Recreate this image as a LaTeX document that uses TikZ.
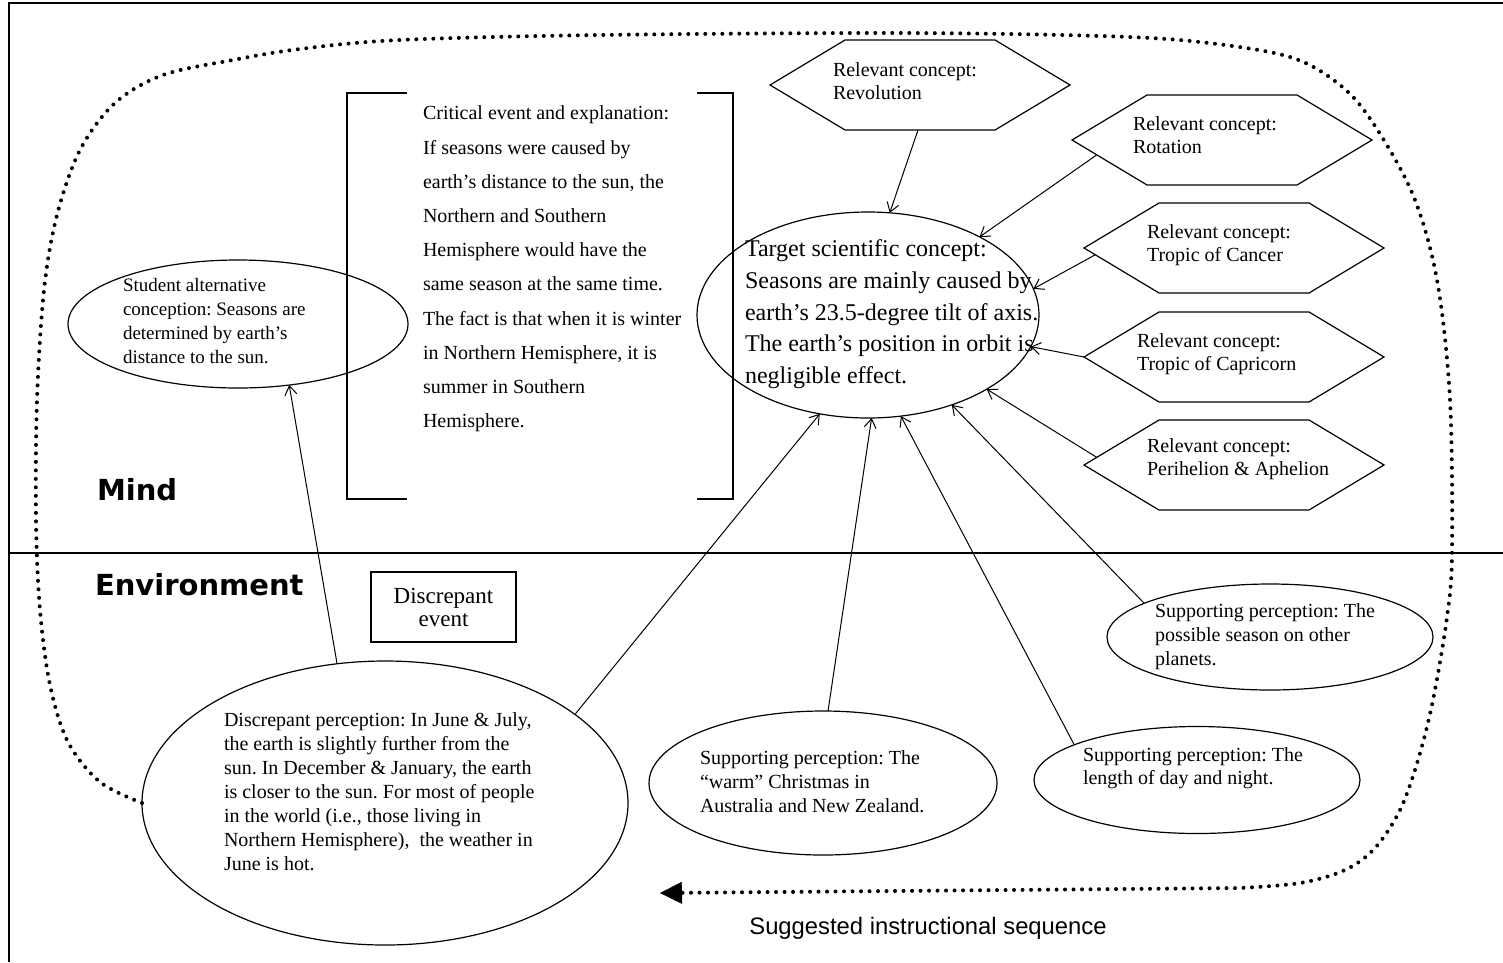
\documentclass[tikz,border=0pt]{standalone}
\usepackage{fontspec}
\setmainfont{Liberation Serif}
\newfontfamily\headfont{DejaVu Sans}
\newfontfamily\capfont{Liberation Sans}
\usetikzlibrary{arrows.meta,calc,shapes.geometric}
\frenchspacing

\begin{document}
\begin{tikzpicture}[x=1pt,y=-1pt,
  every node/.style={inner sep=0pt, outer sep=0pt},
  oval/.style={ellipse, draw, line width=1.2pt},
  txt/.style={anchor=north west, align=left, font=\fontsize{20}{24}\selectfont},
  htxt/.style={anchor=north west, align=left, font=\fontsize{20}{23}\selectfont},
  arr/.style={-{Straight Barb[length=9pt,width=12pt]}, line width=1pt},
  hexbox/.style={minimum width=300pt, minimum height=90pt},
  hexline/.style={line width=1.2pt},
  seqloop/.style={line width=4pt, line cap=round, dash pattern=on 0pt off 8.5pt},
  head/.style={anchor=west, font=\headfont\bfseries\fontsize{29}{29}\selectfont}
]
\useasboundingbox (0,0) rectangle (1503,962);

% frame and divider
\draw[line width=1.5pt] (9,962) -- (9,3) -- (1503,3);
\draw[line width=1.2pt] (9,553) -- (1503,553);

% ellipses
\node[oval, minimum width=340pt, minimum height=128pt] (stud) at (238,324) {};
\node[oval, minimum width=342pt, minimum height=206pt] (target) at (868,315) {};
\node[oval, minimum width=486pt, minimum height=284pt] (disc) at (385,803) {};
\node[oval, minimum width=348pt, minimum height=144pt] (xmas) at (823,783) {};
\node[oval, minimum width=326pt, minimum height=107pt] (day) at (1197,780) {};
\node[oval, minimum width=326pt, minimum height=106pt] (planet) at (1270,637) {};

% hexagons
\node[hexbox] (rev) at (920,85) {};
\node[hexbox] (rot) at (1222,140) {};
\node[hexbox] (can) at (1234,248) {};
\node[hexbox] (cap) at (1234,357) {};
\node[hexbox] (peri) at (1234,465) {};
\foreach \h in {rev,rot,can,cap,peri}
  \draw[hexline] (\h.west) -- ([xshift=75pt]\h.north west) -- ([xshift=-75pt]\h.north east)
    -- (\h.east) -- ([xshift=-75pt]\h.south east) -- ([xshift=75pt]\h.south west) -- cycle;

\node[htxt] (revt) at (833,63) {Relevant concept:\\Revolution};
\node[htxt] (rott) at (1133,117) {Relevant concept:\\Rotation};
\node[htxt] (cant) at (1147,225) {Relevant concept:\\Tropic of Cancer};
\node[htxt] (capt) at (1137,334) {Relevant concept:\\Tropic of Capricorn};
\node[htxt] (perit) at (1147,439) {Relevant concept:\\Perihelion \& Aphelion};

% bracket
\draw[line width=1.3pt] (407,93) -- (347,93) -- (347,499) -- (407,499);
\draw[line width=1.3pt] (697,93) -- (733,93) -- (733,499) -- (697,499);

% texts
\node[anchor=north west, align=left, font=\fontsize{24}{31.8}\selectfont] (targett) at (745,239.5)
  {Target scientific concept:\\Seasons are mainly caused by\\earth’s 23.5-degree tilt of axis.\\The earth’s position in orbit is\\negligible effect.};
\node[anchor=north west, align=left, font=\fontsize{20}{34.2}\selectfont] (crit) at (423,106)
  {Critical event and explanation:\\If seasons were caused by\\earth’s distance to the sun, the\\Northern and Southern\\Hemisphere would have the\\same season at the same time.\\The fact is that when it is winter\\in Northern Hemisphere, it is\\summer in Southern\\Hemisphere.};
\node[anchor=north west, align=left, font=\fontsize{19}{24}\selectfont] (studt) at (123,278.5)
  {Student alternative\\conception: Seasons are\\determined by earth’s\\distance to the sun.};
\node[txt] (disct) at (224,713)
  {Discrepant perception: In June \& July,\\the earth is slightly further from the\\sun. In December \& January, the earth\\is closer to the sun. For most of people\\in the world (i.e., those living in\\Northern Hemisphere), \ the weather in\\June is hot.};
\node[txt] (xmast) at (700,751) {Supporting perception: The\\“warm” Christmas in\\Australia and New Zealand.};
\node[txt, font=\fontsize{20}{23}\selectfont] (dayt) at (1083,748) {Supporting perception: The\\length of day and night.};
\node[txt] (planett) at (1155,604) {Supporting perception: The\\possible season on other\\planets.};

\node[draw, line width=1.3pt, minimum width=145pt, minimum height=70pt, align=center,
  font=\fontsize{23}{23}\selectfont] (devent) at (443.5,607) {Discrepant\\event};

\node[head] (mind) at (97,490) {Mind};
\node[head] (env) at (95,585) {Environment};
\node[font=\capfont\fontsize{23.8}{24}\selectfont] (seq) at (928,928) {Suggested instructional sequence};

% connectors
\draw[arr] (disc.109) -- (stud.-50);
\draw[arr] (disc.25) -- (target.-116);
\draw[arr] (xmas.86) -- (target.-88);
\draw[arr] (day.164) -- (target.-72);
\draw[arr] (planet.165) -- (target.-47.6);
\draw[arr] ($(peri.west)!0.17!([xshift=75pt]peri.north west)$) -- (target.-32);
\draw[arr] (cap.west) -- (target.-11.5);
\draw[arr] ($(can.west)!0.15!([xshift=75pt]can.south west)$) -- (target.9.6);
\draw[arr] ($(rot.west)!0.33!([xshift=75pt]rot.south west)$) -- (target.35.7);
\draw[arr] ([xshift=-2pt]rev.south) -- (target.78);

% suggested instructional sequence loop
\coordinate (seqtip) at (660,893);
\draw[seqloop, -{Triangle[length=22pt,width=22pt,line width=0.4pt]}]
  plot[smooth, tension=0.55] coordinates {(disc.west) (100,782) (68,742) (50,685) (40,610)
   (36,520) (37,400) (44,290) (57,215) (80,150) (115,103) (163,75) (233,60) (300,49)
   (400,40) (600,35) (900,33) (1100,36) (1200,42) (1290,57) (1340,85) (1373,123)
   (1413,195) (1437,280) (1450,400) (1452,553) (1447,617) (1433,700) (1418,760)
   (1400,810) (1375,848) (1345,870) (1300,883) (1240,888)} -- (seqtip);
\end{tikzpicture}
\end{document}
